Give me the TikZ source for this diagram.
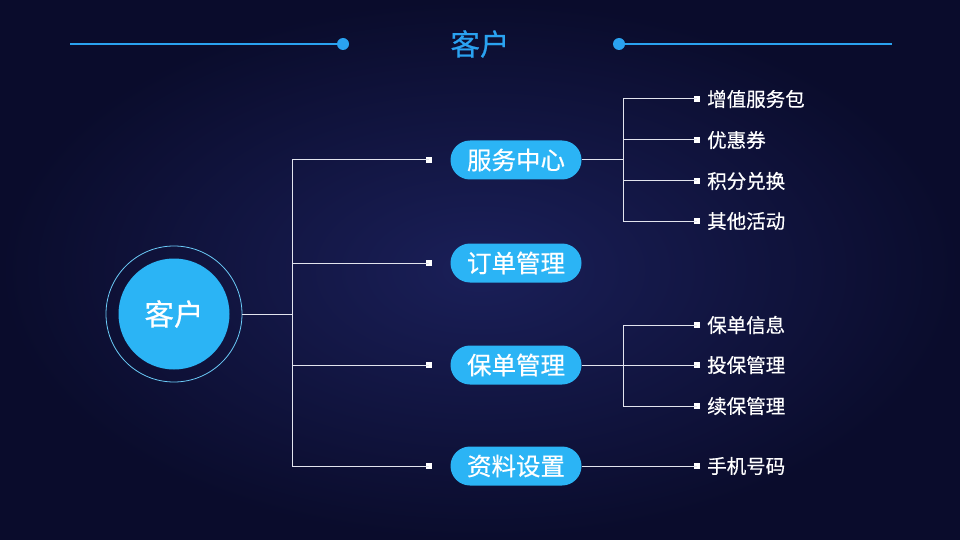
\documentclass[tikz,border=0pt]{standalone}
\usepackage{fontspec}
\setmainfont{Noto Sans CJK SC}
\newfontfamily\medfont{Noto Sans CJK SC}[FakeBold=0.45]
\usetikzlibrary{shapes.misc}
\definecolor{bgin}{HTML}{1A1F58}
\definecolor{bgout}{HTML}{0A0C2C}
\definecolor{pillblue}{HTML}{2BB4F5}
\definecolor{titleblue}{HTML}{2AA2F0}
\definecolor{linecol}{HTML}{E2E4EE}
\tikzset{
  pill/.style={rounded rectangle, fill=pillblue, minimum width=131pt, minimum height=39pt, inner sep=0pt, text=white, font=\medfont\fontsize{24.5}{24.5}\selectfont},
  leaf/.style={anchor=west, text=white, inner sep=0pt, font=\medfont\fontsize{19.5}{19.5}\selectfont},
  sq/.style={rectangle, fill=white, minimum size=6.5pt, inner sep=0pt},
  conn/.style={draw=linecol, line width=1pt},
  topline/.style={draw=titleblue, line width=2pt},
}
\begin{document}
\begin{tikzpicture}[x=1pt,y=-1pt]
\useasboundingbox (0,0) rectangle (960,540);
\shade[inner color=bgin, outer color=bgout] (0,0) rectangle (960,540);
% title
\node[text=titleblue, font=\medfont\fontsize{29.5}{29.5}\selectfont] (title) at (480,44) {客户};
\coordinate (tl1) at (70,44);
\node[circle, fill=titleblue, minimum size=12pt, inner sep=0pt] (tdl) at (343,44) {};
\node[circle, fill=titleblue, minimum size=12pt, inner sep=0pt] (tdr) at (619,44) {};
\coordinate (tr1) at (892,44);
\draw[topline] (tl1) -- (tdl.center);
\draw[topline] (tdr.center) -- (tr1);
% root
\node[circle, draw=pillblue!70!white, line width=0.8pt, minimum size=136pt, inner sep=0pt] (ring) at (174,314) {};
\node[circle, fill=pillblue, minimum size=111pt, inner sep=0pt, text=white, font=\medfont\fontsize{29.5}{29.5}\selectfont] (root) at (174,314) {客户};
\coordinate (trunk) at (292,314);
\coordinate (t1) at (292,160);
\coordinate (t2) at (292,263);
\coordinate (t3) at (292,365);
\coordinate (t4) at (292,466);
\draw[conn] (ring.east) -- (trunk);
\draw[conn] (t1) -- (t4);
% level 1
\node[sq] (s1) at (429,160) {};
\node[sq] (s2) at (429,263) {};
\node[sq] (s3) at (429,365) {};
\node[sq] (s4) at (429,466) {};
\node[pill] (p1) at (516,160) {服务中心};
\node[pill] (p2) at (516,263) {订单管理};
\node[pill] (p3) at (516,365) {保单管理};
\node[pill] (p4) at (516,466) {资料设置};
\foreach \i in {1,2,3,4} { \draw[conn] (t\i) -- (s\i.center); }
% level 2 for p1
\coordinate (v1) at (623,160);
\coordinate (v1a) at (623,99);
\coordinate (v1b) at (623,140);
\coordinate (v1c) at (623,181);
\coordinate (v1d) at (623,221);
\draw[conn] (p1.east) -- (v1);
\draw[conn] (v1a) -- (v1d);
\node[sq] (q1) at (697,99) {};
\node[sq] (q2) at (697,140) {};
\node[sq] (q3) at (697,181) {};
\node[sq] (q4) at (697,221) {};
\foreach \c/\q in {v1a/q1,v1b/q2,v1c/q3,v1d/q4} { \draw[conn] (\c) -- (\q.center); }
\node[leaf] (l1) at (707,99) {增值服务包};
\node[leaf] (l2) at (707,140) {优惠券};
\node[leaf] (l3) at (707,181) {积分兑换};
\node[leaf] (l4) at (707,221) {其他活动};
% level 2 for p3
\coordinate (v3a) at (623,325);
\coordinate (v3c) at (623,406);
\draw[conn] (v3a) -- (v3c);
\node[sq] (r1) at (697,325) {};
\node[sq] (r2) at (697,365) {};
\node[sq] (r3) at (697,406) {};
\draw[conn] (p3.east) -- (r2.center);
\draw[conn] (v3a) -- (r1.center);
\draw[conn] (v3c) -- (r3.center);
\node[leaf] (m1) at (707,325) {保单信息};
\node[leaf] (m2) at (707,365) {投保管理};
\node[leaf] (m3) at (707,406) {续保管理};
% level 2 for p4
\node[sq] (u1) at (697,466) {};
\draw[conn] (p4.east) -- (u1.center);
\node[leaf] (n1) at (707,466) {手机号码};
\end{tikzpicture}
\end{document}
